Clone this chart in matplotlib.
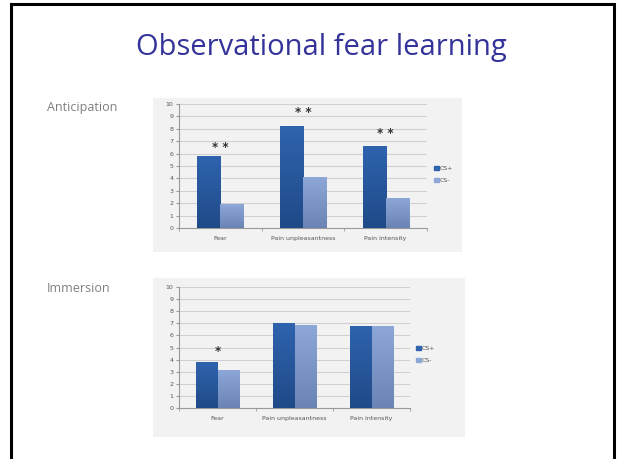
import numpy as np
import matplotlib.pyplot as plt
from matplotlib.patches import Rectangle
from matplotlib.colors import LinearSegmentedColormap

W, H = 621, 459

# data
categories = ['Fear', 'Pain unpleasantness', 'Pain intensity']
antic_cs_plus = [5.8, 8.2, 6.65]
antic_cs_minus = [1.9, 4.1, 2.45]
antic_marks = ['* *', '* *', '* *']
antic_mark_y = [6.5, 9.3, 7.6]

immer_cs_plus = [3.8, 7.0, 6.8]
immer_cs_minus = [3.15, 6.85, 6.8]
immer_marks = ['*', '', '']
immer_mark_y = [4.65, 0, 0]

series_names = ['CS+', 'CS-']
yticks = list(range(0, 11))

# top -> bottom colours of the bars
c_plus = ['#2f63ae', '#1f4a88']
c_minus = ['#8ea7d9', '#6a84b6']


def px_rect(x0, y0, x1, y1):
    return [x0 / W, 1 - y1 / H, (x1 - x0) / W, (y1 - y0) / H]


def grad_bar(ax, bar, cols):
    cmap = LinearSegmentedColormap.from_list('g', cols)
    x0, y0 = bar.get_x(), bar.get_y()
    w, h = bar.get_width(), bar.get_height()
    img = ax.imshow(np.linspace(0, 1, 64).reshape(-1, 1), cmap=cmap, aspect='auto',
                    extent=[x0, x0 + w, y0, y0 + h], zorder=3)
    img.set_clip_path(bar)


def draw_chart(panel, box, leg_xy, cs_plus, cs_minus, marks, mark_y):
    bg = fig.add_axes(px_rect(*panel))
    bg.set_facecolor('#f2f2f2')
    bg.set_xticks([])
    bg.set_yticks([])
    for s in bg.spines.values():
        s.set_visible(False)

    ax = fig.add_axes(px_rect(*box))
    ax.set_facecolor('none')
    x = np.arange(len(categories))
    bw = 0.28
    b1 = ax.bar(x - bw / 2, cs_plus, bw, color=c_plus[0], zorder=2)
    b2 = ax.bar(x + bw / 2, cs_minus, bw, color=c_minus[0], zorder=2)
    for b in b1:
        grad_bar(ax, b, c_plus)
    for b in b2:
        grad_bar(ax, b, c_minus)
    for xi, m, my in zip(x, marks, mark_y):
        if m:
            ax.text(xi, my, m, ha='center', va='center', fontsize=8.5,
                    fontweight='bold', color='#333333', zorder=4)
    ax.set_xlim(-0.5, 2.5)
    ax.set_ylim(0, 10)
    ax.set_yticks(yticks)
    ax.yaxis.grid(True, color='#d0d0d0', linewidth=0.8)
    ax.set_axisbelow(True)
    ax.set_xticks(x)
    ax.set_xticklabels(categories)
    ax.set_xticks([-0.5, 0.5, 1.5, 2.5], minor=True)
    ax.tick_params(axis='x', which='major', length=0, labelsize=4.5,
                   labelcolor='#555555', pad=6)
    ax.tick_params(axis='x', which='minor', length=2, color='#999999')
    ax.tick_params(axis='y', length=2, color='#999999', labelsize=4.5,
                   labelcolor='#555555', pad=2)
    for s in ['top', 'right']:
        ax.spines[s].set_visible(False)
    ax.spines['left'].set_color('#999999')
    ax.spines['bottom'].set_color('#999999')

    lx, ly = leg_xy
    for i, (name, col) in enumerate(zip(series_names, [c_plus[0], c_minus[0]])):
        yy = 1 - (ly + i * 12) / H
        fig.patches.append(Rectangle((lx / W, yy - 2 / H), 5 / W, 4 / H,
                                     transform=fig.transFigure, color=col))
        fig.text((lx + 6) / W, yy, name, fontsize=4.5, color='#555555', va='center')


fig = plt.figure(figsize=(W / 100, H / 100), dpi=100)
fig.patch.set_facecolor('white')

# slide frame
fig.patches.append(Rectangle((11 / W, -5 / H), 603 / W, (H - 4 + 5) / H,
                             transform=fig.transFigure, fill=False,
                             edgecolor='black', linewidth=2.2))

fig.text(321 / W, 1 - 47 / H, 'Observational fear learning', ha='center', va='center',
         fontsize=21, family='Open Sans', color='#33339a')

fig.text(47 / W, 1 - 107 / H, 'Anticipation', fontsize=9, color='#7f7f7f',
         family='Open Sans', va='center')
fig.text(47 / W, 1 - 289 / H, 'Immersion', fontsize=9, color='#7f7f7f',
         family='Open Sans', va='center')

draw_chart((153, 98, 462, 252), (179, 104, 427, 228), (434, 168),
           antic_cs_plus, antic_cs_minus, antic_marks, antic_mark_y)
draw_chart((153, 278, 465, 437), (179, 287, 410, 408), (416, 348),
           immer_cs_plus, immer_cs_minus, immer_marks, immer_mark_y)

fig.savefig('out.png', dpi=100)
